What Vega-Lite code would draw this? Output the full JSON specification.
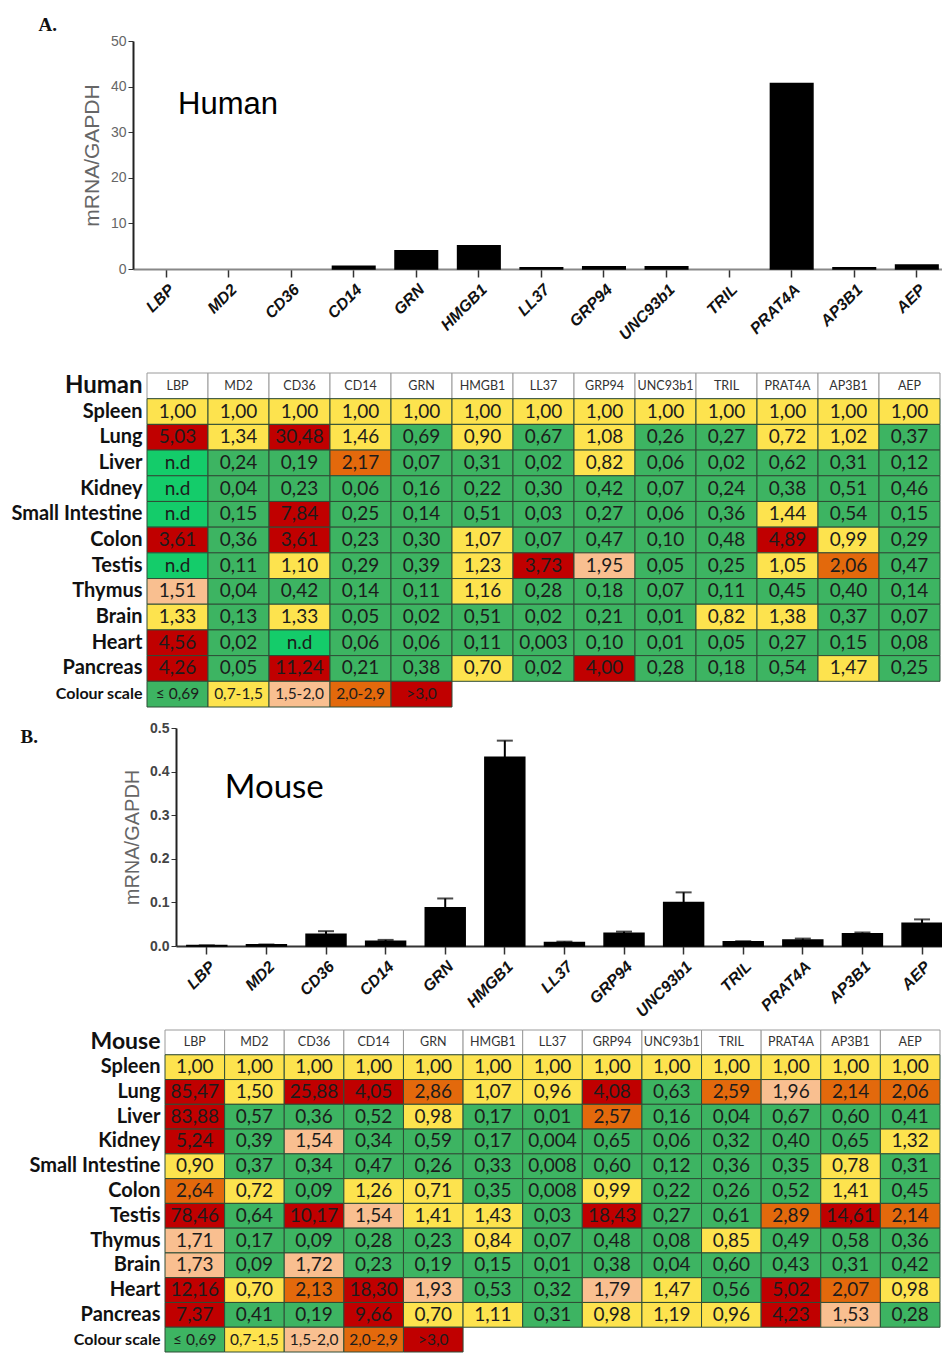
{
  "$schema": "https://vega.github.io/schema/vega-lite/v6.json",
  "width": 942,
  "height": 1354,
  "autosize": "none",
  "padding": 0,
  "background": "white",
  "config": {
    "view": {"stroke": null},
    "axis": {"grid": false},
    "text": {"font": "Lato"}
  },
  "datasets": {
    "hbar": [
      {"g": "LBP", "v": 0}, {"g": "MD2", "v": 0}, {"g": "CD36", "v": 0}, {"g": "CD14", "v": 0.6},
      {"g": "GRN", "v": 4.0}, {"g": "HMGB1", "v": 5.1}, {"g": "LL37", "v": 0.3}, {"g": "GRP94", "v": 0.5},
      {"g": "UNC93b1", "v": 0.5}, {"g": "TRIL", "v": 0}, {"g": "PRAT4A", "v": 40.7}, {"g": "AP3B1", "v": 0.3},
      {"g": "AEP", "v": 0.9}
    ],
    "mbar": [
      {"g": "LBP", "v": 0.001, "hi": 0.0015}, {"g": "MD2", "v": 0.003, "hi": 0.0035}, {"g": "CD36", "v": 0.027, "hi": 0.034},
      {"g": "CD14", "v": 0.011, "hi": 0.014}, {"g": "GRN", "v": 0.088, "hi": 0.109}, {"g": "HMGB1", "v": 0.433, "hi": 0.471},
      {"g": "LL37", "v": 0.008, "hi": 0.01}, {"g": "GRP94", "v": 0.029, "hi": 0.033}, {"g": "UNC93b1", "v": 0.1, "hi": 0.123},
      {"g": "TRIL", "v": 0.01, "hi": 0.011}, {"g": "PRAT4A", "v": 0.014, "hi": 0.017}, {"g": "AP3B1", "v": 0.028, "hi": 0.031},
      {"g": "AEP", "v": 0.052, "hi": 0.061}
    ],
    "cscale": [
      {"g": "LBP", "c": "≤ 0,69"}, {"g": "MD2", "c": "0,7-1,5"}, {"g": "CD36", "c": "1,5-2,0"},
      {"g": "CD14", "c": "2,0-2,9"}, {"g": "GRN", "c": ">3,0"}
    ],
    "human": [
      {"t":"Spleen","g":"LBP","v":1,"l":"1,00"},{"t":"Spleen","g":"MD2","v":1,"l":"1,00"},{"t":"Spleen","g":"CD36","v":1,"l":"1,00"},{"t":"Spleen","g":"CD14","v":1,"l":"1,00"},{"t":"Spleen","g":"GRN","v":1,"l":"1,00"},{"t":"Spleen","g":"HMGB1","v":1,"l":"1,00"},{"t":"Spleen","g":"LL37","v":1,"l":"1,00"},{"t":"Spleen","g":"GRP94","v":1,"l":"1,00"},{"t":"Spleen","g":"UNC93b1","v":1,"l":"1,00"},{"t":"Spleen","g":"TRIL","v":1,"l":"1,00"},{"t":"Spleen","g":"PRAT4A","v":1,"l":"1,00"},{"t":"Spleen","g":"AP3B1","v":1,"l":"1,00"},{"t":"Spleen","g":"AEP","v":1,"l":"1,00"},
      {"t":"Lung","g":"LBP","v":5.03,"l":"5,03"},{"t":"Lung","g":"MD2","v":1.34,"l":"1,34"},{"t":"Lung","g":"CD36","v":30.48,"l":"30,48"},{"t":"Lung","g":"CD14","v":1.46,"l":"1,46"},{"t":"Lung","g":"GRN","v":0.69,"l":"0,69"},{"t":"Lung","g":"HMGB1","v":0.9,"l":"0,90"},{"t":"Lung","g":"LL37","v":0.67,"l":"0,67"},{"t":"Lung","g":"GRP94","v":1.08,"l":"1,08"},{"t":"Lung","g":"UNC93b1","v":0.26,"l":"0,26"},{"t":"Lung","g":"TRIL","v":0.27,"l":"0,27"},{"t":"Lung","g":"PRAT4A","v":0.72,"l":"0,72"},{"t":"Lung","g":"AP3B1","v":1.02,"l":"1,02"},{"t":"Lung","g":"AEP","v":0.37,"l":"0,37"},
      {"t":"Liver","g":"LBP","v":null,"l":"n.d"},{"t":"Liver","g":"MD2","v":0.24,"l":"0,24"},{"t":"Liver","g":"CD36","v":0.19,"l":"0,19"},{"t":"Liver","g":"CD14","v":2.17,"l":"2,17"},{"t":"Liver","g":"GRN","v":0.07,"l":"0,07"},{"t":"Liver","g":"HMGB1","v":0.31,"l":"0,31"},{"t":"Liver","g":"LL37","v":0.02,"l":"0,02"},{"t":"Liver","g":"GRP94","v":0.82,"l":"0,82"},{"t":"Liver","g":"UNC93b1","v":0.06,"l":"0,06"},{"t":"Liver","g":"TRIL","v":0.02,"l":"0,02"},{"t":"Liver","g":"PRAT4A","v":0.62,"l":"0,62"},{"t":"Liver","g":"AP3B1","v":0.31,"l":"0,31"},{"t":"Liver","g":"AEP","v":0.12,"l":"0,12"},
      {"t":"Kidney","g":"LBP","v":null,"l":"n.d"},{"t":"Kidney","g":"MD2","v":0.04,"l":"0,04"},{"t":"Kidney","g":"CD36","v":0.23,"l":"0,23"},{"t":"Kidney","g":"CD14","v":0.06,"l":"0,06"},{"t":"Kidney","g":"GRN","v":0.16,"l":"0,16"},{"t":"Kidney","g":"HMGB1","v":0.22,"l":"0,22"},{"t":"Kidney","g":"LL37","v":0.3,"l":"0,30"},{"t":"Kidney","g":"GRP94","v":0.42,"l":"0,42"},{"t":"Kidney","g":"UNC93b1","v":0.07,"l":"0,07"},{"t":"Kidney","g":"TRIL","v":0.24,"l":"0,24"},{"t":"Kidney","g":"PRAT4A","v":0.38,"l":"0,38"},{"t":"Kidney","g":"AP3B1","v":0.51,"l":"0,51"},{"t":"Kidney","g":"AEP","v":0.46,"l":"0,46"},
      {"t":"Small Intestine","g":"LBP","v":null,"l":"n.d"},{"t":"Small Intestine","g":"MD2","v":0.15,"l":"0,15"},{"t":"Small Intestine","g":"CD36","v":7.84,"l":"7,84"},{"t":"Small Intestine","g":"CD14","v":0.25,"l":"0,25"},{"t":"Small Intestine","g":"GRN","v":0.14,"l":"0,14"},{"t":"Small Intestine","g":"HMGB1","v":0.51,"l":"0,51"},{"t":"Small Intestine","g":"LL37","v":0.03,"l":"0,03"},{"t":"Small Intestine","g":"GRP94","v":0.27,"l":"0,27"},{"t":"Small Intestine","g":"UNC93b1","v":0.06,"l":"0,06"},{"t":"Small Intestine","g":"TRIL","v":0.36,"l":"0,36"},{"t":"Small Intestine","g":"PRAT4A","v":1.44,"l":"1,44"},{"t":"Small Intestine","g":"AP3B1","v":0.54,"l":"0,54"},{"t":"Small Intestine","g":"AEP","v":0.15,"l":"0,15"},
      {"t":"Colon","g":"LBP","v":3.61,"l":"3,61"},{"t":"Colon","g":"MD2","v":0.36,"l":"0,36"},{"t":"Colon","g":"CD36","v":3.61,"l":"3,61"},{"t":"Colon","g":"CD14","v":0.23,"l":"0,23"},{"t":"Colon","g":"GRN","v":0.3,"l":"0,30"},{"t":"Colon","g":"HMGB1","v":1.07,"l":"1,07"},{"t":"Colon","g":"LL37","v":0.07,"l":"0,07"},{"t":"Colon","g":"GRP94","v":0.47,"l":"0,47"},{"t":"Colon","g":"UNC93b1","v":0.1,"l":"0,10"},{"t":"Colon","g":"TRIL","v":0.48,"l":"0,48"},{"t":"Colon","g":"PRAT4A","v":4.89,"l":"4,89"},{"t":"Colon","g":"AP3B1","v":0.99,"l":"0,99"},{"t":"Colon","g":"AEP","v":0.29,"l":"0,29"},
      {"t":"Testis","g":"LBP","v":null,"l":"n.d"},{"t":"Testis","g":"MD2","v":0.11,"l":"0,11"},{"t":"Testis","g":"CD36","v":1.1,"l":"1,10"},{"t":"Testis","g":"CD14","v":0.29,"l":"0,29"},{"t":"Testis","g":"GRN","v":0.39,"l":"0,39"},{"t":"Testis","g":"HMGB1","v":1.23,"l":"1,23"},{"t":"Testis","g":"LL37","v":3.73,"l":"3,73"},{"t":"Testis","g":"GRP94","v":1.95,"l":"1,95"},{"t":"Testis","g":"UNC93b1","v":0.05,"l":"0,05"},{"t":"Testis","g":"TRIL","v":0.25,"l":"0,25"},{"t":"Testis","g":"PRAT4A","v":1.05,"l":"1,05"},{"t":"Testis","g":"AP3B1","v":2.06,"l":"2,06"},{"t":"Testis","g":"AEP","v":0.47,"l":"0,47"},
      {"t":"Thymus","g":"LBP","v":1.51,"l":"1,51"},{"t":"Thymus","g":"MD2","v":0.04,"l":"0,04"},{"t":"Thymus","g":"CD36","v":0.42,"l":"0,42"},{"t":"Thymus","g":"CD14","v":0.14,"l":"0,14"},{"t":"Thymus","g":"GRN","v":0.11,"l":"0,11"},{"t":"Thymus","g":"HMGB1","v":1.16,"l":"1,16"},{"t":"Thymus","g":"LL37","v":0.28,"l":"0,28"},{"t":"Thymus","g":"GRP94","v":0.18,"l":"0,18"},{"t":"Thymus","g":"UNC93b1","v":0.07,"l":"0,07"},{"t":"Thymus","g":"TRIL","v":0.11,"l":"0,11"},{"t":"Thymus","g":"PRAT4A","v":0.45,"l":"0,45"},{"t":"Thymus","g":"AP3B1","v":0.4,"l":"0,40"},{"t":"Thymus","g":"AEP","v":0.14,"l":"0,14"},
      {"t":"Brain","g":"LBP","v":1.33,"l":"1,33"},{"t":"Brain","g":"MD2","v":0.13,"l":"0,13"},{"t":"Brain","g":"CD36","v":1.33,"l":"1,33"},{"t":"Brain","g":"CD14","v":0.05,"l":"0,05"},{"t":"Brain","g":"GRN","v":0.02,"l":"0,02"},{"t":"Brain","g":"HMGB1","v":0.51,"l":"0,51"},{"t":"Brain","g":"LL37","v":0.02,"l":"0,02"},{"t":"Brain","g":"GRP94","v":0.21,"l":"0,21"},{"t":"Brain","g":"UNC93b1","v":0.01,"l":"0,01"},{"t":"Brain","g":"TRIL","v":0.82,"l":"0,82"},{"t":"Brain","g":"PRAT4A","v":1.38,"l":"1,38"},{"t":"Brain","g":"AP3B1","v":0.37,"l":"0,37"},{"t":"Brain","g":"AEP","v":0.07,"l":"0,07"},
      {"t":"Heart","g":"LBP","v":4.56,"l":"4,56"},{"t":"Heart","g":"MD2","v":0.02,"l":"0,02"},{"t":"Heart","g":"CD36","v":null,"l":"n.d"},{"t":"Heart","g":"CD14","v":0.06,"l":"0,06"},{"t":"Heart","g":"GRN","v":0.06,"l":"0,06"},{"t":"Heart","g":"HMGB1","v":0.11,"l":"0,11"},{"t":"Heart","g":"LL37","v":0.003,"l":"0,003"},{"t":"Heart","g":"GRP94","v":0.1,"l":"0,10"},{"t":"Heart","g":"UNC93b1","v":0.01,"l":"0,01"},{"t":"Heart","g":"TRIL","v":0.05,"l":"0,05"},{"t":"Heart","g":"PRAT4A","v":0.27,"l":"0,27"},{"t":"Heart","g":"AP3B1","v":0.15,"l":"0,15"},{"t":"Heart","g":"AEP","v":0.08,"l":"0,08"},
      {"t":"Pancreas","g":"LBP","v":4.26,"l":"4,26"},{"t":"Pancreas","g":"MD2","v":0.05,"l":"0,05"},{"t":"Pancreas","g":"CD36","v":11.24,"l":"11,24"},{"t":"Pancreas","g":"CD14","v":0.21,"l":"0,21"},{"t":"Pancreas","g":"GRN","v":0.38,"l":"0,38"},{"t":"Pancreas","g":"HMGB1","v":0.7,"l":"0,70"},{"t":"Pancreas","g":"LL37","v":0.02,"l":"0,02"},{"t":"Pancreas","g":"GRP94","v":4.0,"l":"4,00"},{"t":"Pancreas","g":"UNC93b1","v":0.28,"l":"0,28"},{"t":"Pancreas","g":"TRIL","v":0.18,"l":"0,18"},{"t":"Pancreas","g":"PRAT4A","v":0.54,"l":"0,54"},{"t":"Pancreas","g":"AP3B1","v":1.47,"l":"1,47"},{"t":"Pancreas","g":"AEP","v":0.25,"l":"0,25"}
    ],
    "mouse": [
      {"t":"Spleen","g":"LBP","v":1,"l":"1,00"},{"t":"Spleen","g":"MD2","v":1,"l":"1,00"},{"t":"Spleen","g":"CD36","v":1,"l":"1,00"},{"t":"Spleen","g":"CD14","v":1,"l":"1,00"},{"t":"Spleen","g":"GRN","v":1,"l":"1,00"},{"t":"Spleen","g":"HMGB1","v":1,"l":"1,00"},{"t":"Spleen","g":"LL37","v":1,"l":"1,00"},{"t":"Spleen","g":"GRP94","v":1,"l":"1,00"},{"t":"Spleen","g":"UNC93b1","v":1,"l":"1,00"},{"t":"Spleen","g":"TRIL","v":1,"l":"1,00"},{"t":"Spleen","g":"PRAT4A","v":1,"l":"1,00"},{"t":"Spleen","g":"AP3B1","v":1,"l":"1,00"},{"t":"Spleen","g":"AEP","v":1,"l":"1,00"},
      {"t":"Lung","g":"LBP","v":85.47,"l":"85,47"},{"t":"Lung","g":"MD2","v":1.5,"l":"1,50"},{"t":"Lung","g":"CD36","v":25.88,"l":"25,88"},{"t":"Lung","g":"CD14","v":4.05,"l":"4,05"},{"t":"Lung","g":"GRN","v":2.86,"l":"2,86"},{"t":"Lung","g":"HMGB1","v":1.07,"l":"1,07"},{"t":"Lung","g":"LL37","v":0.96,"l":"0,96"},{"t":"Lung","g":"GRP94","v":4.08,"l":"4,08"},{"t":"Lung","g":"UNC93b1","v":0.63,"l":"0,63"},{"t":"Lung","g":"TRIL","v":2.59,"l":"2,59"},{"t":"Lung","g":"PRAT4A","v":1.96,"l":"1,96"},{"t":"Lung","g":"AP3B1","v":2.14,"l":"2,14"},{"t":"Lung","g":"AEP","v":2.06,"l":"2,06"},
      {"t":"Liver","g":"LBP","v":83.88,"l":"83,88"},{"t":"Liver","g":"MD2","v":0.57,"l":"0,57"},{"t":"Liver","g":"CD36","v":0.36,"l":"0,36"},{"t":"Liver","g":"CD14","v":0.52,"l":"0,52"},{"t":"Liver","g":"GRN","v":0.98,"l":"0,98"},{"t":"Liver","g":"HMGB1","v":0.17,"l":"0,17"},{"t":"Liver","g":"LL37","v":0.01,"l":"0,01"},{"t":"Liver","g":"GRP94","v":2.57,"l":"2,57"},{"t":"Liver","g":"UNC93b1","v":0.16,"l":"0,16"},{"t":"Liver","g":"TRIL","v":0.04,"l":"0,04"},{"t":"Liver","g":"PRAT4A","v":0.67,"l":"0,67"},{"t":"Liver","g":"AP3B1","v":0.6,"l":"0,60"},{"t":"Liver","g":"AEP","v":0.41,"l":"0,41"},
      {"t":"Kidney","g":"LBP","v":5.24,"l":"5,24"},{"t":"Kidney","g":"MD2","v":0.39,"l":"0,39"},{"t":"Kidney","g":"CD36","v":1.54,"l":"1,54"},{"t":"Kidney","g":"CD14","v":0.34,"l":"0,34"},{"t":"Kidney","g":"GRN","v":0.59,"l":"0,59"},{"t":"Kidney","g":"HMGB1","v":0.17,"l":"0,17"},{"t":"Kidney","g":"LL37","v":0.004,"l":"0,004"},{"t":"Kidney","g":"GRP94","v":0.65,"l":"0,65"},{"t":"Kidney","g":"UNC93b1","v":0.06,"l":"0,06"},{"t":"Kidney","g":"TRIL","v":0.32,"l":"0,32"},{"t":"Kidney","g":"PRAT4A","v":0.4,"l":"0,40"},{"t":"Kidney","g":"AP3B1","v":0.65,"l":"0,65"},{"t":"Kidney","g":"AEP","v":1.32,"l":"1,32"},
      {"t":"Small Intestine","g":"LBP","v":0.9,"l":"0,90"},{"t":"Small Intestine","g":"MD2","v":0.37,"l":"0,37"},{"t":"Small Intestine","g":"CD36","v":0.34,"l":"0,34"},{"t":"Small Intestine","g":"CD14","v":0.47,"l":"0,47"},{"t":"Small Intestine","g":"GRN","v":0.26,"l":"0,26"},{"t":"Small Intestine","g":"HMGB1","v":0.33,"l":"0,33"},{"t":"Small Intestine","g":"LL37","v":0.008,"l":"0,008"},{"t":"Small Intestine","g":"GRP94","v":0.6,"l":"0,60"},{"t":"Small Intestine","g":"UNC93b1","v":0.12,"l":"0,12"},{"t":"Small Intestine","g":"TRIL","v":0.36,"l":"0,36"},{"t":"Small Intestine","g":"PRAT4A","v":0.35,"l":"0,35"},{"t":"Small Intestine","g":"AP3B1","v":0.78,"l":"0,78"},{"t":"Small Intestine","g":"AEP","v":0.31,"l":"0,31"},
      {"t":"Colon","g":"LBP","v":2.64,"l":"2,64"},{"t":"Colon","g":"MD2","v":0.72,"l":"0,72"},{"t":"Colon","g":"CD36","v":0.09,"l":"0,09"},{"t":"Colon","g":"CD14","v":1.26,"l":"1,26"},{"t":"Colon","g":"GRN","v":0.71,"l":"0,71"},{"t":"Colon","g":"HMGB1","v":0.35,"l":"0,35"},{"t":"Colon","g":"LL37","v":0.008,"l":"0,008"},{"t":"Colon","g":"GRP94","v":0.99,"l":"0,99"},{"t":"Colon","g":"UNC93b1","v":0.22,"l":"0,22"},{"t":"Colon","g":"TRIL","v":0.26,"l":"0,26"},{"t":"Colon","g":"PRAT4A","v":0.52,"l":"0,52"},{"t":"Colon","g":"AP3B1","v":1.41,"l":"1,41"},{"t":"Colon","g":"AEP","v":0.45,"l":"0,45"},
      {"t":"Testis","g":"LBP","v":78.46,"l":"78,46"},{"t":"Testis","g":"MD2","v":0.64,"l":"0,64"},{"t":"Testis","g":"CD36","v":10.17,"l":"10,17"},{"t":"Testis","g":"CD14","v":1.54,"l":"1,54"},{"t":"Testis","g":"GRN","v":1.41,"l":"1,41"},{"t":"Testis","g":"HMGB1","v":1.43,"l":"1,43"},{"t":"Testis","g":"LL37","v":0.03,"l":"0,03"},{"t":"Testis","g":"GRP94","v":18.43,"l":"18,43"},{"t":"Testis","g":"UNC93b1","v":0.27,"l":"0,27"},{"t":"Testis","g":"TRIL","v":0.61,"l":"0,61"},{"t":"Testis","g":"PRAT4A","v":2.89,"l":"2,89"},{"t":"Testis","g":"AP3B1","v":14.61,"l":"14,61"},{"t":"Testis","g":"AEP","v":2.14,"l":"2,14"},
      {"t":"Thymus","g":"LBP","v":1.71,"l":"1,71"},{"t":"Thymus","g":"MD2","v":0.17,"l":"0,17"},{"t":"Thymus","g":"CD36","v":0.09,"l":"0,09"},{"t":"Thymus","g":"CD14","v":0.28,"l":"0,28"},{"t":"Thymus","g":"GRN","v":0.23,"l":"0,23"},{"t":"Thymus","g":"HMGB1","v":0.84,"l":"0,84"},{"t":"Thymus","g":"LL37","v":0.07,"l":"0,07"},{"t":"Thymus","g":"GRP94","v":0.48,"l":"0,48"},{"t":"Thymus","g":"UNC93b1","v":0.08,"l":"0,08"},{"t":"Thymus","g":"TRIL","v":0.85,"l":"0,85"},{"t":"Thymus","g":"PRAT4A","v":0.49,"l":"0,49"},{"t":"Thymus","g":"AP3B1","v":0.58,"l":"0,58"},{"t":"Thymus","g":"AEP","v":0.36,"l":"0,36"},
      {"t":"Brain","g":"LBP","v":1.73,"l":"1,73"},{"t":"Brain","g":"MD2","v":0.09,"l":"0,09"},{"t":"Brain","g":"CD36","v":1.72,"l":"1,72"},{"t":"Brain","g":"CD14","v":0.23,"l":"0,23"},{"t":"Brain","g":"GRN","v":0.19,"l":"0,19"},{"t":"Brain","g":"HMGB1","v":0.15,"l":"0,15"},{"t":"Brain","g":"LL37","v":0.01,"l":"0,01"},{"t":"Brain","g":"GRP94","v":0.38,"l":"0,38"},{"t":"Brain","g":"UNC93b1","v":0.04,"l":"0,04"},{"t":"Brain","g":"TRIL","v":0.6,"l":"0,60"},{"t":"Brain","g":"PRAT4A","v":0.43,"l":"0,43"},{"t":"Brain","g":"AP3B1","v":0.31,"l":"0,31"},{"t":"Brain","g":"AEP","v":0.42,"l":"0,42"},
      {"t":"Heart","g":"LBP","v":12.16,"l":"12,16"},{"t":"Heart","g":"MD2","v":0.7,"l":"0,70"},{"t":"Heart","g":"CD36","v":2.13,"l":"2,13"},{"t":"Heart","g":"CD14","v":18.3,"l":"18,30"},{"t":"Heart","g":"GRN","v":1.93,"l":"1,93"},{"t":"Heart","g":"HMGB1","v":0.53,"l":"0,53"},{"t":"Heart","g":"LL37","v":0.32,"l":"0,32"},{"t":"Heart","g":"GRP94","v":1.79,"l":"1,79"},{"t":"Heart","g":"UNC93b1","v":1.47,"l":"1,47"},{"t":"Heart","g":"TRIL","v":0.56,"l":"0,56"},{"t":"Heart","g":"PRAT4A","v":5.02,"l":"5,02"},{"t":"Heart","g":"AP3B1","v":2.07,"l":"2,07"},{"t":"Heart","g":"AEP","v":0.98,"l":"0,98"},
      {"t":"Pancreas","g":"LBP","v":7.37,"l":"7,37"},{"t":"Pancreas","g":"MD2","v":0.41,"l":"0,41"},{"t":"Pancreas","g":"CD36","v":0.19,"l":"0,19"},{"t":"Pancreas","g":"CD14","v":9.66,"l":"9,66"},{"t":"Pancreas","g":"GRN","v":0.7,"l":"0,70"},{"t":"Pancreas","g":"HMGB1","v":1.11,"l":"1,11"},{"t":"Pancreas","g":"LL37","v":0.31,"l":"0,31"},{"t":"Pancreas","g":"GRP94","v":0.98,"l":"0,98"},{"t":"Pancreas","g":"UNC93b1","v":1.19,"l":"1,19"},{"t":"Pancreas","g":"TRIL","v":0.96,"l":"0,96"},{"t":"Pancreas","g":"PRAT4A","v":4.23,"l":"4,23"},{"t":"Pancreas","g":"AP3B1","v":1.53,"l":"1,53"},{"t":"Pancreas","g":"AEP","v":0.28,"l":"0,28"}
    ]
  },
  "layer": [
    {
      "data": {"name": "hbar"},
      "encoding": {
        "x": {
          "field": "g", "type": "nominal",
          "sort": ["LBP","MD2","CD36","CD14","GRN","HMGB1","LL37","GRP94","UNC93b1","TRIL","PRAT4A","AP3B1","AEP"],
          "scale": {"domain": ["LBP","MD2","CD36","CD14","GRN","HMGB1","LL37","GRP94","UNC93b1","TRIL","PRAT4A","AP3B1","AEP"], "range": [133, 942], "paddingInner": 0.32, "paddingOuter": 0.125, "align": 0.75},
          "axis": {
            "orient": "bottom", "offset": -1085, "title": "A.", "titleX": 38, "titleY": -254, "titleAngle": 0,
            "titleAlign": "left", "titleBaseline": "top", "titleFont": "Liberation Serif", "titleFontSize": 19,
            "titleFontWeight": "bold", "titleColor": "#111",
            "labelAngle": -45, "labelFont": "Liberation Sans", "labelFontStyle": "italic", "labelFontWeight": "bold",
            "labelFontSize": 16, "labelColor": "#111", "labelOverlap": false, "labelPadding": 4,
            "tickSize": 8, "tickColor": "#333", "tickWidth": 1.5, "domainColor": "#888", "domainWidth": 2
          }
        }
      },
      "layer": [
        {
          "mark": {"type": "bar", "color": "black", "stroke": "black", "strokeWidth": 1.5},
          "encoding": {
            "y": {
              "field": "v", "type": "quantitative",
              "scale": {"domain": [0, 50], "range": [269, 41], "nice": false},
              "axis": {
                "orient": "left", "offset": -133, "values": [0, 10, 20, 30, 40, 50], "title": "mRNA/GAPDH",
                "titleFont": "Liberation Sans", "titleFontSize": 21, "titleFontWeight": "normal", "titleColor": "#666",
                "titlePadding": 8, "labelFont": "Liberation Sans", "labelFontSize": 14, "labelColor": "#666",
                "tickSize": 5, "tickColor": "#333", "domainColor": "#222", "domainWidth": 2
              }
            },
            "strokeOpacity": {"condition": {"test": "datum.v > 0", "value": 1}, "value": 0}
          }
        },
        {
          "transform": [{"filter": "datum.g === 'LBP'"}],
          "mark": {"type": "text", "text": "Human", "align": "left", "baseline": "middle", "dx": 12, "font": "Liberation Sans", "fontSize": 31, "color": "black"},
          "encoding": {"y": {"datum": 36, "type": "quantitative"}}
        }
      ]
    },
    {
      "data": {"name": "human"},
      "encoding": {
        "x": {
          "field": "g", "type": "nominal",
          "scale": {"domain": ["LBP","MD2","CD36","CD14","GRN","HMGB1","LL37","GRP94","UNC93b1","TRIL","PRAT4A","AP3B1","AEP"], "range": [147, 940], "paddingInner": 0, "paddingOuter": 0},
          "axis": null
        },
        "y": {
          "field": "t", "type": "nominal",
          "scale": {"domain": ["Human","Spleen","Lung","Liver","Kidney","Small Intestine","Colon","Testis","Thymus","Brain","Heart","Pancreas","Colour scale"], "range": [373, 707], "paddingInner": 0, "paddingOuter": 0},
          "axis": {
            "orient": "left", "offset": -147, "title": null, "domain": false, "ticks": false, "labelPadding": 5,
            "labelFont": "Lato", "labelFontWeight": "bold", "labelColor": "#111",
            "labelFontSize": {"expr": "datum.value === 'Human' ? 24 : datum.value === 'Colour scale' ? 16 : 20"}
          }
        }
      },
      "layer": [
        {
          "transform": [{"filter": "datum.t === 'Spleen'"}],
          "mark": {"type": "rect", "fill": "white", "stroke": "#9a9a9a", "strokeWidth": 1},
          "encoding": {"y": {"datum": "Human", "type": "nominal"}}
        },
        {
          "transform": [{"filter": "datum.t === 'Spleen'"}],
          "mark": {"type": "text", "font": "Lato", "fontSize": 12.5, "color": "#333"},
          "encoding": {"y": {"datum": "Human", "type": "nominal"}, "text": {"field": "g"}}
        },
        {
          "mark": {"type": "rect", "stroke": "#2e4d36", "strokeWidth": 1, "invalid": null},
          "encoding": {
            "color": {
              "condition": {"test": "datum.v === null", "value": "#14cc6a"},
              "field": "v", "type": "quantitative",
              "scale": {"type": "threshold", "domain": [0.695, 1.505, 1.995, 2.95], "range": ["#3db462", "#fde34e", "#f9bf90", "#e3690c", "#c00000"]},
              "legend": null
            }
          }
        },
        {
          "mark": {"type": "text", "font": "Lato", "fontSize": 19, "color": "#1c1c1c"},
          "encoding": {"text": {"field": "l"}}
        },
        {
          "data": {"name": "cscale"},
          "mark": {"type": "rect", "stroke": "#2e4d36", "strokeWidth": 1},
          "encoding": {
            "y": {"datum": "Colour scale", "type": "nominal"},
            "fill": {"field": "c", "type": "nominal", "scale": {"domain": ["≤ 0,69", "0,7-1,5", "1,5-2,0", "2,0-2,9", ">3,0"], "range": ["#3db462", "#fde34e", "#f9bf90", "#e3690c", "#c00000"]}, "legend": null}
          }
        },
        {
          "data": {"name": "cscale"},
          "mark": {"type": "text", "font": "Lato", "fontSize": 15.5, "color": "#1c1c1c"},
          "encoding": {"y": {"datum": "Colour scale", "type": "nominal"}, "text": {"field": "c"}}
        }
      ]
    },
    {
      "data": {"name": "mbar"},
      "encoding": {
        "x": {
          "field": "g", "type": "nominal",
          "sort": ["LBP","MD2","CD36","CD14","GRN","HMGB1","LL37","GRP94","UNC93b1","TRIL","PRAT4A","AP3B1","AEP"],
          "scale": {"domain": ["LBP","MD2","CD36","CD14","GRN","HMGB1","LL37","GRP94","UNC93b1","TRIL","PRAT4A","AP3B1","AEP"], "range": [176, 942], "paddingInner": 0.33, "paddingOuter": 0.091, "align": 1},
          "axis": {
            "orient": "bottom", "offset": -408, "title": "B.", "titleX": 20, "titleY": -219, "titleAngle": 0,
            "titleAlign": "left", "titleBaseline": "top", "titleFont": "Liberation Serif", "titleFontSize": 19,
            "titleFontWeight": "bold", "titleColor": "#111",
            "labelAngle": -45, "labelFont": "Liberation Sans", "labelFontStyle": "italic", "labelFontWeight": "bold",
            "labelFontSize": 16, "labelColor": "#111", "labelOverlap": false, "labelPadding": 4,
            "tickSize": 8, "tickColor": "#333", "tickWidth": 1.5, "domainColor": "#333", "domainWidth": 2
          }
        }
      },
      "layer": [
        {
          "mark": {"type": "bar", "color": "black", "stroke": "black", "strokeWidth": 1.5},
          "encoding": {
            "y": {
              "field": "v", "type": "quantitative",
              "scale": {"domain": [0, 0.5], "range": [946, 728], "nice": false},
              "axis": {
                "orient": "left", "offset": -176, "values": [0, 0.1, 0.2, 0.3, 0.4, 0.5], "format": ".1f", "title": "mRNA/GAPDH",
                "titleFont": "Liberation Sans", "titleFontSize": 20, "titleFontWeight": "normal", "titleColor": "#666",
                "titlePadding": 7, "labelFont": "Liberation Sans", "labelFontSize": 14, "labelFontWeight": "bold", "labelColor": "#444",
                "tickSize": 5, "tickColor": "#333", "domainColor": "#222", "domainWidth": 2
              }
            }
          }
        },
        {
          "mark": {"type": "rule", "color": "black", "strokeWidth": 2},
          "encoding": {"y": {"field": "v", "type": "quantitative"}, "y2": {"field": "hi"}}
        },
        {
          "mark": {"type": "tick", "orient": "horizontal", "size": 16, "thickness": 2, "color": "black"},
          "encoding": {"y": {"field": "hi", "type": "quantitative"}}
        },
        {
          "transform": [{"filter": "datum.g === 'LBP'"}],
          "mark": {"type": "text", "text": "Mouse", "align": "left", "baseline": "middle", "dx": 18, "font": "Lato", "fontSize": 33, "color": "black"},
          "encoding": {"y": {"datum": 0.362, "type": "quantitative"}}
        }
      ]
    },
    {
      "data": {"name": "mouse"},
      "encoding": {
        "x": {
          "field": "g", "type": "nominal",
          "scale": {"domain": ["LBP","MD2","CD36","CD14","GRN","HMGB1","LL37","GRP94","UNC93b1","TRIL","PRAT4A","AP3B1","AEP"], "range": [165, 940], "paddingInner": 0, "paddingOuter": 0},
          "axis": null
        },
        "y": {
          "field": "t", "type": "nominal",
          "scale": {"domain": ["Mouse","Spleen","Lung","Liver","Kidney","Small Intestine","Colon","Testis","Thymus","Brain","Heart","Pancreas","Colour scale"], "range": [1030, 1352], "paddingInner": 0, "paddingOuter": 0},
          "axis": {
            "orient": "left", "offset": -165, "title": null, "domain": false, "ticks": false, "labelPadding": 5,
            "labelFont": "Lato", "labelFontWeight": "bold", "labelColor": "#111",
            "labelFontSize": {"expr": "datum.value === 'Mouse' ? 23 : datum.value === 'Colour scale' ? 16 : 20"}
          }
        }
      },
      "layer": [
        {
          "transform": [{"filter": "datum.t === 'Spleen'"}],
          "mark": {"type": "rect", "fill": "white", "stroke": "#9a9a9a", "strokeWidth": 1},
          "encoding": {"y": {"datum": "Mouse", "type": "nominal"}}
        },
        {
          "transform": [{"filter": "datum.t === 'Spleen'"}],
          "mark": {"type": "text", "font": "Lato", "fontSize": 12.5, "color": "#333"},
          "encoding": {"y": {"datum": "Mouse", "type": "nominal"}, "text": {"field": "g"}}
        },
        {
          "mark": {"type": "rect", "stroke": "#2e4d36", "strokeWidth": 1, "invalid": null},
          "encoding": {
            "color": {
              "condition": {"test": "datum.v === null", "value": "#14cc6a"},
              "field": "v", "type": "quantitative",
              "scale": {"type": "threshold", "domain": [0.695, 1.505, 1.995, 2.95], "range": ["#3db462", "#fde34e", "#f9bf90", "#e3690c", "#c00000"]},
              "legend": null
            }
          }
        },
        {
          "mark": {"type": "text", "font": "Lato", "fontSize": 19, "color": "#1c1c1c"},
          "encoding": {"text": {"field": "l"}}
        },
        {
          "data": {"name": "cscale"},
          "mark": {"type": "rect", "stroke": "#2e4d36", "strokeWidth": 1},
          "encoding": {
            "y": {"datum": "Colour scale", "type": "nominal"},
            "fill": {"field": "c", "type": "nominal", "scale": {"domain": ["≤ 0,69", "0,7-1,5", "1,5-2,0", "2,0-2,9", ">3,0"], "range": ["#3db462", "#fde34e", "#f9bf90", "#e3690c", "#c00000"]}, "legend": null}
          }
        },
        {
          "data": {"name": "cscale"},
          "mark": {"type": "text", "font": "Lato", "fontSize": 15.5, "color": "#1c1c1c"},
          "encoding": {"y": {"datum": "Colour scale", "type": "nominal"}, "text": {"field": "c"}}
        }
      ]
    }
  ],
  "resolve": {
    "scale": {"x": "independent", "y": "independent", "color": "independent", "fill": "independent"},
    "axis": {"x": "independent", "y": "independent"}
  }
}
